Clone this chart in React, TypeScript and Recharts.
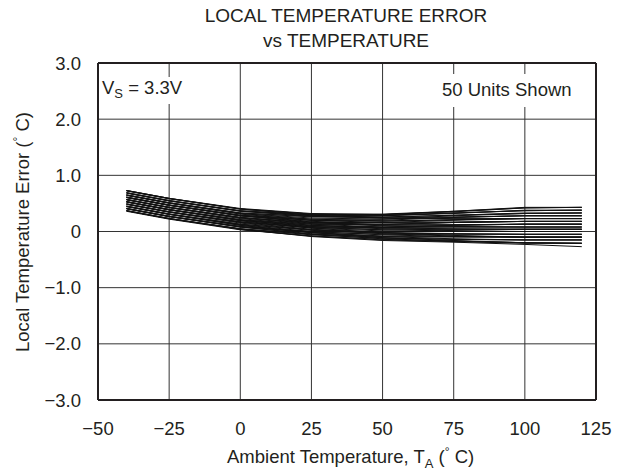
import { LineChart, Line, XAxis, YAxis, CartesianGrid, ReferenceLine } from 'recharts';

// ambient temperature points (°C) where each unit was measured
const temps = [-40, -25, 0, 25, 50, 75, 100, 120];

// local temperature error (°C) for each of the 50 units
const units: number[][] = [
  [0.73, 0.59, 0.41, 0.32, 0.3, 0.35, 0.42, 0.43],
  [0.73, 0.59, 0.4, 0.31, 0.29, 0.33, 0.37, 0.38],
  [0.72, 0.58, 0.4, 0.31, 0.31, 0.36, 0.43, 0.43],
  [0.69, 0.55, 0.37, 0.29, 0.28, 0.32, 0.38, 0.38],
  [0.69, 0.55, 0.36, 0.28, 0.26, 0.29, 0.33, 0.33],
  [0.68, 0.54, 0.36, 0.27, 0.24, 0.26, 0.28, 0.28],
  [0.65, 0.51, 0.33, 0.26, 0.25, 0.29, 0.32, 0.33],
  [0.65, 0.51, 0.32, 0.24, 0.22, 0.25, 0.28, 0.28],
  [0.65, 0.51, 0.32, 0.22, 0.19, 0.21, 0.23, 0.23],
  [0.64, 0.5, 0.31, 0.2, 0.16, 0.17, 0.18, 0.18],
  [0.61, 0.47, 0.29, 0.2, 0.18, 0.21, 0.23, 0.23],
  [0.61, 0.47, 0.28, 0.18, 0.15, 0.16, 0.18, 0.18],
  [0.61, 0.47, 0.28, 0.17, 0.12, 0.12, 0.13, 0.13],
  [0.6, 0.46, 0.28, 0.2, 0.2, 0.25, 0.28, 0.28],
  [0.57, 0.43, 0.25, 0.14, 0.11, 0.12, 0.13, 0.13],
  [0.57, 0.43, 0.24, 0.13, 0.08, 0.08, 0.08, 0.08],
  [0.57, 0.43, 0.25, 0.15, 0.13, 0.16, 0.18, 0.18],
  [0.56, 0.42, 0.23, 0.11, 0.06, 0.05, 0.04, 0.04],
  [0.53, 0.39, 0.21, 0.11, 0.07, 0.08, 0.08, 0.08],
  [0.53, 0.39, 0.2, 0.09, 0.05, 0.04, 0.04, 0.04],
  [0.53, 0.39, 0.2, 0.08, 0.03, 0.01, 0.0, 0.0],
  [0.52, 0.38, 0.2, 0.1, 0.08, 0.11, 0.13, 0.13],
  [0.49, 0.35, 0.17, 0.06, 0.01, 0.0, 0.0, 0.0],
  [0.49, 0.35, 0.16, 0.04, -0.02, -0.04, -0.05, -0.05],
  [0.49, 0.35, 0.17, 0.07, 0.03, 0.04, 0.04, 0.04],
  [0.48, 0.34, 0.15, 0.03, -0.04, -0.08, -0.1, -0.1],
  [0.45, 0.31, 0.13, 0.02, -0.03, -0.04, -0.05, -0.05],
  [0.45, 0.31, 0.12, 0.0, -0.06, -0.09, -0.1, -0.1],
  [0.45, 0.31, 0.13, 0.03, -0.01, 0.0, 0.0, 0.0],
  [0.44, 0.3, 0.11, -0.02, -0.09, -0.13, -0.15, -0.15],
  [0.41, 0.27, 0.09, -0.02, -0.08, -0.09, -0.1, -0.1],
  [0.41, 0.27, 0.08, -0.04, -0.11, -0.14, -0.15, -0.15],
  [0.41, 0.27, 0.08, -0.05, -0.13, -0.17, -0.2, -0.21],
  [0.4, 0.26, 0.08, -0.01, -0.05, -0.05, -0.05, -0.05],
  [0.37, 0.23, 0.05, -0.06, -0.12, -0.14, -0.15, -0.15],
  [0.37, 0.23, 0.04, -0.08, -0.15, -0.18, -0.21, -0.21],
  [0.37, 0.23, 0.04, -0.09, -0.16, -0.19, -0.23, -0.27],
  [0.36, 0.22, 0.03, -0.08, -0.14, -0.17, -0.2, -0.21],
  [0.73, 0.59, 0.4, 0.29, 0.24, 0.23, 0.23, 0.23],
  [0.69, 0.55, 0.37, 0.3, 0.3, 0.36, 0.42, 0.43],
  [0.65, 0.51, 0.33, 0.27, 0.28, 0.33, 0.37, 0.38],
  [0.61, 0.47, 0.28, 0.16, 0.1, 0.09, 0.08, 0.08],
  [0.57, 0.43, 0.25, 0.16, 0.16, 0.2, 0.23, 0.23],
  [0.53, 0.39, 0.19, 0.06, -0.02, -0.07, -0.1, -0.1],
  [0.49, 0.35, 0.17, 0.08, 0.07, 0.11, 0.13, 0.13],
  [0.45, 0.31, 0.11, -0.02, -0.11, -0.16, -0.2, -0.21],
  [0.41, 0.27, 0.09, 0.0, -0.01, 0.02, 0.04, 0.04],
  [0.37, 0.23, 0.05, -0.05, -0.09, -0.1, -0.1, -0.1],
  [0.61, 0.47, 0.29, 0.22, 0.22, 0.28, 0.32, 0.33],
  [0.53, 0.39, 0.21, 0.13, 0.12, 0.16, 0.18, 0.18],
];

const xTicks = [-50, -25, 0, 25, 50, 75, 100, 125];
const yTicks = [-3, -2, -1, 0, 1, 2, 3];

const data = temps.map((t, i) => {
  const row: Record<string, number> = { t };
  units.forEach((u, k) => {
    row['u' + k] = u[i];
  });
  return row;
});

const FONT = '"Liberation Sans", Arial, sans-serif';
const INK = '#231f20';
const FS = 18.5;

const fmtX = (v: number) => (v < 0 ? '\u2212' + Math.abs(v) : String(v));
const fmtY = (v: number) =>
  v === 0 ? '0' : (v < 0 ? '\u2212' : '') + Math.abs(v).toFixed(1);

export default function App() {
  return (
    <div style={{ position: 'absolute', left: 0, top: 0, width: 618, height: 472, background: '#fff' }}>
      <LineChart
        width={618}
        height={472}
        data={data}
        margin={{ top: 63, right: 22, bottom: 0, left: 0 }}
      >
        <CartesianGrid stroke="#333" strokeWidth={1} />
        <XAxis
          dataKey="t"
          type="number"
          domain={[-50, 125]}
          ticks={xTicks}
          tickFormatter={fmtX}
          tickLine={false}
          axisLine={{ stroke: INK, strokeWidth: 2 }}
          tick={{ fontSize: FS, fill: INK, fontFamily: FONT }}
          tickMargin={16}
          height={72}
        />
        <YAxis
          type="number"
          domain={[-3, 3]}
          ticks={yTicks}
          tickFormatter={fmtY}
          tickLine={false}
          axisLine={{ stroke: INK, strokeWidth: 2 }}
          tick={{ fontSize: FS, fill: INK, fontFamily: FONT }}
          tickMargin={11}
          width={98}
        />
        <ReferenceLine y={3} stroke={INK} strokeWidth={2} />
        <ReferenceLine x={125} stroke={INK} strokeWidth={2} />
        {units.map((_, k) => (
          <Line
            key={k}
            dataKey={'u' + k}
            type="linear"
            stroke="#111"
            strokeWidth={1}
            dot={false}
            isAnimationActive={false}
          />
        ))}
      </LineChart>
      <svg
        width={618}
        height={472}
        style={{ position: 'absolute', left: 0, top: 0, pointerEvents: 'none' }}
        fontFamily={FONT}
        fill={INK}
      >
        <text x={346} y={22} textAnchor="middle" fontSize={19}>
          LOCAL TEMPERATURE ERROR
        </text>
        <text x={346} y={47} textAnchor="middle" fontSize={19}>
          vs TEMPERATURE
        </text>

        <rect x={100} y={77} width={90} height={27} fill="#fff" />
        <text x={102} y={93.5} fontSize={FS}>
          V<tspan fontSize={13} dy={4}>S</tspan>
          <tspan dy={-4}> = 3.3V</tspan>
        </text>

        <rect x={438} y={74} width={138} height={33} fill="#fff" />
        <text x={442} y={96} fontSize={FS}>
          50 Units Shown
        </text>

        <text x={227} y={463} fontSize={FS}>
          Ambient Temperature, T<tspan fontSize={13} dy={5}>A</tspan>
          <tspan dy={-5}> (</tspan>
          <tspan fontSize={12} dy={-7}>°</tspan>
          <tspan dy={7}> C)</tspan>
        </text>

        <text x={29} y={232} transform="rotate(-90 29 232)" textAnchor="middle" fontSize={FS}>
          Local Temperature Error (<tspan fontSize={12} dy={-7}>°</tspan>
          <tspan dy={7}> C)</tspan>
        </text>
      </svg>
    </div>
  );
}
